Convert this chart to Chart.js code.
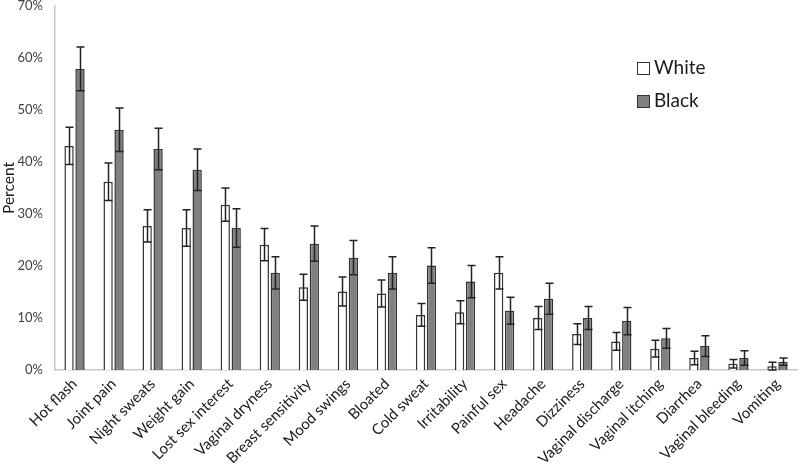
<!DOCTYPE html>
<html>
<head>
<meta charset="utf-8">
<script src="https://cdn.jsdelivr.net/npm/chart.js@4/dist/chart.umd.min.js"></script>
<style>
html,body{margin:0;padding:0;background:#fff;}
#wrap{position:relative;width:800px;height:470px;}
</style>
</head>
<body>
<div id="wrap"><canvas id="c" width="800" height="470"></canvas></div>
<script>
const categories = ["Hot flash","Joint pain","Night sweats","Weight gain","Lost sex interest","Vaginal dryness","Breast sensitivity","Mood swings","Bloated","Cold sweat","Irritability","Painful sex","Headache","Dizziness","Vaginal discharge","Vaginal itching","Diarrhea","Vaginal bleeding","Vomiting"];
const whiteValues = [43.1,36.2,27.7,27.3,31.8,24.1,15.9,15.1,14.7,10.6,11.1,18.7,10.0,6.9,5.5,4.1,2.3,1.2,0.7];
const whiteErrors = [3.6,3.6,3.1,3.5,3.2,3.1,2.5,2.8,2.6,2.2,2.2,3.1,2.2,2.0,1.7,1.6,1.3,0.8,0.8];
const blackValues = [57.9,46.2,42.5,38.5,27.3,18.7,24.3,21.6,18.7,20.1,17.0,11.4,13.7,10.0,9.4,6.1,4.6,2.3,1.6];
const blackErrors = [4.2,4.2,4.0,4.0,3.7,3.1,3.4,3.3,3.1,3.4,3.1,2.6,3.0,2.2,2.6,1.9,2.0,1.4,0.7];
const yTicks = [0,10,20,30,40,50,60,70];
const seriesNames = ["White","Black"];

const errorBars = {
  id:'errorBars',
  afterDatasetsDraw(chart){
    const ctx = chart.ctx, ys = chart.scales.y;
    const errs = [whiteErrors, blackErrors];
    chart.data.datasets.forEach((ds,i)=>{
      const meta = chart.getDatasetMeta(i);
      meta.data.forEach((el,j)=>{
        const v = ds.data[j], e = errs[i][j];
        const x = Math.round(el.x)+0.5;
        const yt = ys.getPixelForValue(v+e), yb = ys.getPixelForValue(Math.max(0,v-e));
        ctx.save();
        ctx.strokeStyle = '#222';
        ctx.lineWidth = 1.5;
        ctx.beginPath();
        ctx.moveTo(x,yt); ctx.lineTo(x,yb);
        ctx.moveTo(x-4,yt); ctx.lineTo(x+4,yt);
        ctx.moveTo(x-4,yb); ctx.lineTo(x+4,yb);
        ctx.stroke();
        ctx.restore();
      });
    });
  },
  afterDraw(chart){
    const ctx = chart.ctx;
    const fills = ['#ffffff','#808080'];
    ctx.save();
    ctx.font = '19px Lato, "Open Sans", sans-serif';
    ctx.textBaseline = 'middle';
    seriesNames.forEach((n,i)=>{
      const y = 68 + i*33;
      ctx.fillStyle = fills[i];
      ctx.fillRect(637.5, y-5.5, 12, 12);
      ctx.strokeStyle = '#333'; ctx.lineWidth = 1;
      ctx.strokeRect(637.5, y-5.5, 12, 12);
      ctx.fillStyle = '#1a1a1a';
      ctx.fillText(n, 654, y);
    });
    ctx.restore();
  }
};

new Chart(document.getElementById('c'), {
  type:'bar',
  data:{
    labels: categories,
    datasets:[
      {label:seriesNames[0], data:whiteValues, backgroundColor:'#ffffff', borderColor:'#333333', borderWidth:1.5, categoryPercentage:0.56, barPercentage:0.85},
      {label:seriesNames[1], data:blackValues, backgroundColor:'#808080', borderColor:'#333333', borderWidth:1.5, categoryPercentage:0.56, barPercentage:0.85}
    ]
  },
  options:{
    responsive:false,
    animation:false,
    layout:{padding:{top:6,right:3,left:0,bottom:0}},
    plugins:{legend:{display:false}, tooltip:{enabled:false}},
    scales:{
      x:{
        grid:{display:false, drawTicks:false},
        border:{display:true,color:'#c8c8c8',width:1.5},
        ticks:{maxRotation:45,minRotation:45,autoSkip:false,color:'#1a1a1a',font:{family:'Lato',size:15},padding:5},
        afterFit(s){ s.height = 100; s.paddingRight = 0; }
      },
      y:{
        min:0,max:70,
        afterBuildTicks(s){ s.ticks = yTicks.map(v=>({value:v})); },
        grid:{display:false, drawTicks:false},
        border:{display:true,color:'#c8c8c8',width:1.5},
        ticks:{color:'#404040',font:{family:'Lato',size:13},padding:12,callback:v=>v+'%'},
        title:{display:true,text:'Percent',color:'#1a1a1a',font:{family:'Lato',size:15.5},padding:{top:0,bottom:0}},
        afterFit(s){ s.width = 55; s.paddingTop = 0; s.paddingBottom = 0; }
      }
    }
  },
  plugins:[errorBars]
});
</script>
</body>
</html>
